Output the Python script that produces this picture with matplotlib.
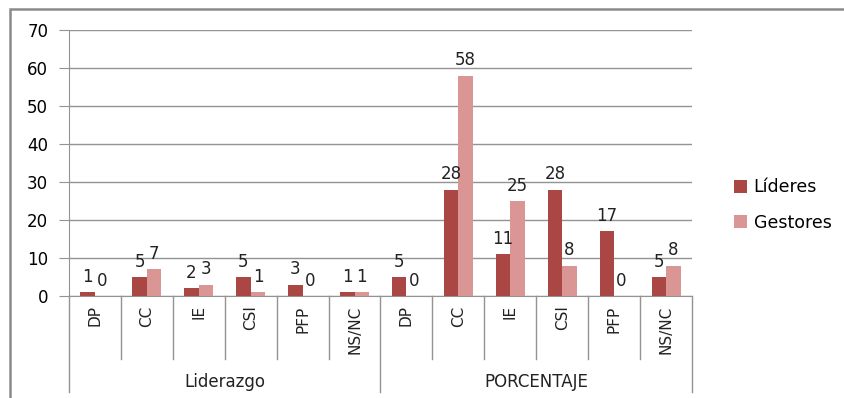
import matplotlib.pyplot as plt
import numpy as np
from matplotlib.patches import Rectangle

categories = ["DP", "CC", "IE", "CSI", "PFP", "NS/NC"]
groups = ["Liderazgo", "PORCENTAJE"]
lideres = [1, 5, 2, 5, 3, 1, 5, 28, 11, 28, 17, 5]
gestores = [0, 7, 3, 1, 0, 1, 0, 58, 25, 8, 0, 8]
yticks = [0, 10, 20, 30, 40, 50, 60, 70]

c_lid = "#AA4644"
c_ges = "#D99694"
grid_c = "#939393"

fig = plt.figure(figsize=(8.45, 3.98), dpi=100)
ax = fig.add_axes([69/845, 102/398, 623/845, 266/398])

n = len(lideres)
x = np.arange(n)
w = 0.28
b1 = ax.bar(x - w/2, lideres, w, color=c_lid, label="Líderes", zorder=3)
b2 = ax.bar(x + w/2, gestores, w, color=c_ges, label="Gestores", zorder=3)

# value labels above each bar
for bars, vals in ((b1, lideres), (b2, gestores)):
    for r, v in zip(bars, vals):
        ax.annotate(str(v), (r.get_x() + r.get_width()/2, v),
                    xytext=(0, 4.5), textcoords="offset points",
                    ha="center", va="bottom", fontsize=12, color="#222222")

ax.set_xlim(-0.5, n - 0.5)
ax.set_ylim(0, 70)
ax.set_yticks(yticks)
ax.tick_params(axis="y", length=7, color=grid_c, labelsize=12, pad=8)
ax.yaxis.grid(True, color=grid_c, lw=1, zorder=0)
ax.set_xticks([])
for s in ["top", "right"]:
    ax.spines[s].set_visible(False)
ax.spines["left"].set_color(grid_c)
ax.spines["bottom"].set_color(grid_c)

# two-level category axis
tr = ax.get_xaxis_transform()
labels = categories * len(groups)
for i, lab in enumerate(labels):
    ax.text(i, -0.035, lab, transform=tr, rotation=90, ha="center", va="top",
            fontsize=11, color="#222222")
for b in range(1, n):
    if b % len(categories) == 0:
        continue
    ax.plot([b - 0.5, b - 0.5], [0, -0.237], transform=tr, color=grid_c,
            lw=1, clip_on=False)
for b in range(0, n + 1, len(categories)):
    ax.plot([b - 0.5, b - 0.5], [0, -0.36], transform=tr, color=grid_c,
            lw=1, clip_on=False)
for g, name in enumerate(groups):
    mid = g * len(categories) + (len(categories) - 1) / 2
    ax.text(mid, -0.325, name, transform=tr, ha="center", va="center",
            fontsize=12, color="#222222")

fig.legend(loc="center left", bbox_to_anchor=(718/845, 193/398), frameon=False,
           fontsize=12.5, handlelength=0.75, handleheight=0.75,
           handletextpad=0.4, labelspacing=1.0)

fig.add_artist(Rectangle((10/845, -0.2), 1.2, 0.2 + 389/398,
                         transform=fig.transFigure, fill=False,
                         edgecolor="#8a8a8a", lw=1.8))

fig.savefig("out.png", dpi=100)
